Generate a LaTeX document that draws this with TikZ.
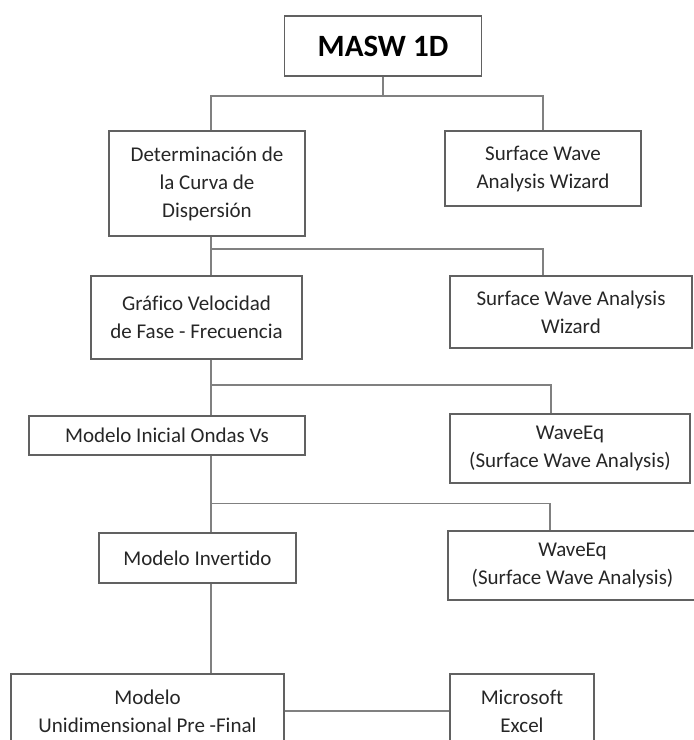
\documentclass[tikz,border=0pt]{standalone}
\usepackage{fontspec}
\setmainfont[Ligatures={NoCommon}]{Carlito}
\usetikzlibrary{calc}

\begin{document}
\begin{tikzpicture}[
  x=1pt, y=-1pt,
  box/.style={draw=black!62,line width=1.3pt,inner sep=0pt,align=center,
    font=\fontsize{21}{28}\selectfont,text=black!85},
  link/.style={draw=black!50,line width=1.3pt}
]
  \useasboundingbox (0,0) rectangle (694,740);

  \node[box,minimum width=197,minimum height=60,
    font=\fontsize{31}{37}\selectfont\bfseries,text=black] (masw) at (383,46) {MASW 1D};
  \node[box,minimum width=196,minimum height=105] (curva) at (207,183.5)
    {Determinación de\\la Curva de\\Dispersión};
  \node[box,minimum width=196,minimum height=75] (swaw1) at (543,168.5)
    {Surface Wave\\Analysis Wizard};
  \node[box,minimum width=211,minimum height=83] (grafico) at (196.5,317.5)
    {Gráfico Velocidad\\de Fase - Frecuencia};
  \node[box,minimum width=242,minimum height=72] (swaw2) at (571,312)
    {Surface Wave Analysis\\Wizard};
  \node[box,minimum width=276,minimum height=39] (inicial) at (167,435.5)
    {Modelo Inicial Ondas Vs};
  \node[box,minimum width=240,minimum height=69] (waveeq1) at (570,448.5)
    {WaveEq\\(Surface Wave Analysis)};
  \node[box,minimum width=197,minimum height=50] (invertido) at (197.5,558)
    {Modelo Invertido};
  \node[box,minimum width=249,minimum height=69] (waveeq2) at (572.5,565.5)
    {WaveEq\\(Surface Wave Analysis)};
  \node[box,minimum width=273,minimum height=74] (unidim) at (147.5,711)
    {Modelo\\Unidimensional Pre -Final};
  \node[box,minimum width=144,minimum height=74] (excel) at (522,711)
    {Microsoft\\Excel};

  % branch points
  \coordinate (b1) at (211,96);    \coordinate (c1) at (543,96);
  \coordinate (b2) at (211,249);   \coordinate (c2) at (543,249);
  \coordinate (b3) at (211,385);   \coordinate (c3) at (551,385);
  \coordinate (b4) at (211,503.5); \coordinate (c4) at (550,503.5);

  \draw[link] (masw) -- (masw |- b1);
  \draw[link] (b1 |- curva.north) -- (b1) -- (c1) -- (c1 |- swaw1.north);

  \draw[link] (b2 |- curva.south) -- (b2 |- grafico.north);
  \draw[link] (b2) -- (c2) -- (c2 |- swaw2.north);

  \draw[link] (b3 |- grafico.south) -- (b3 |- inicial.north);
  \draw[link] (b3) -- (c3) -- (c3 |- waveeq1.north);

  \draw[link] (b4 |- inicial.south) -- (b4 |- invertido.north);
  \draw[link] (b4) -- (c4) -- (c4 |- waveeq2.north);

  \draw[link] (b4 |- invertido.south) -- (b4 |- unidim.north);
  \draw[link] (unidim) -- (excel);
\end{tikzpicture}
\end{document}
